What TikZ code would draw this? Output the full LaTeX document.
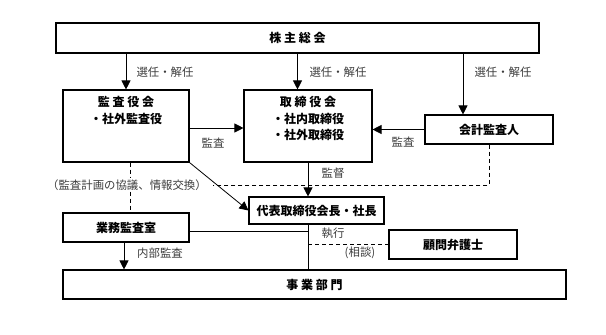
\documentclass[tikz,border=0pt]{standalone}
\usepackage{fontspec}
\setmainfont{Noto Sans CJK JP}
\usepackage{xcolor}
\definecolor{kgText}{RGB}{60,60,60}
\usepackage{tikz}
\usetikzlibrary{positioning,arrows.meta,calc}

\begin{document}
\begin{tikzpicture}[x=1pt,y=-1pt,
  box/.style={draw,line width=1.1pt,fill=white,align=center,inner sep=0pt,font=\fontsize{12}{16.5}\selectfont\bfseries},
  tallbox/.style={box,minimum height=72pt},
  boxtext/.style={align=center,inner sep=0pt,font=\fontsize{12}{16.5}\selectfont\bfseries},
  lbl/.style={font=\fontsize{11.4}{13}\selectfont,text=kgText,inner sep=1pt},
  a/.style={-{Triangle[length=9pt,width=9pt]},line width=0.8pt},
  ln/.style={line width=0.8pt},
  dsh/.style={line width=0.8pt,dash pattern=on 4pt off 3pt}]
  \useasboundingbox (0,0) rectangle (606,335);
  \node[box,minimum width=483pt,minimum height=30pt] (gm) at (297.5,38) {株 主 総 会};
  \node[tallbox,minimum width=126pt] (kansa) at (126,126) {};
  \node[boxtext,below=7pt of kansa.north] (kansaT) {監 査 役 会\\・社外監査役};
  \node[tallbox,minimum width=128pt] (tori) at (308,126) {};
  \node[boxtext,below=7pt of tori.north] (toriT) {取 締 役 会\\・社内取締役\\・社外取締役};
  \node[box,minimum width=128pt,minimum height=29pt] (kaikei) at (489,129.5) {会計監査人};
  \node[box,minimum width=135pt,minimum height=27pt] (ceo) at (316.5,210.5) {代表取締役会長・社長};
  \node[box,minimum width=126pt,minimum height=29pt] (naibu) at (126,227.5) {業務監査室};
  \node[box,minimum width=128pt,minimum height=29pt] (bengo) at (453,244.5) {顧問弁護士};
  \node[box,minimum width=503pt,minimum height=29pt] (jigyo) at (314.5,284.5) {事 業 部 門};

  \draw[a] (gm.south -| kansa.north) -- (kansa.north);
  \draw[a] (gm.south) -- (gm.south |- tori.north);
  \draw[a] ([xshift=-26pt]kaikei.north |- gm.south) -- ([xshift=-26pt]kaikei.north);
  \node[lbl] (sel1) at (165,72) {選任・解任};
  \node[lbl] (sel2) at (338,72) {選任・解任};
  \node[lbl] (sel3) at (503,72) {選任・解任};

  \draw[a] ([yshift=-2pt]kansa.east) -- ([yshift=-2pt]kansa.east -| tori.west);
  \node[lbl] (aud1) at (213,143) {監査};
  \draw[a] (kaikei.west) -- (kaikei.west -| tori.east);
  \node[lbl] (aud2) at (403,142) {監査};
  \draw[a] (tori.south) -- (tori.south |- ceo.north);
  \node[lbl] (sup) at (333,173) {監督};

  \node[lbl,inner xsep=6pt] (plan) at (127,185) {（監査計画の協議、情報交換）};
  \draw[dsh] (kaikei.south) |- (plan.east);
  \draw[dsh] ([xshift=4pt]kansa.south) -- ([xshift=4pt]kansa.south |- plan.north);
  \draw[dsh] ([xshift=4pt]naibu.north |- plan.south) -- ([xshift=4pt]naibu.north);
  \draw[a] (kansa.south east) -- (ceo.west);

  \draw[ln] ([yshift=-4pt]naibu.east) -- ([yshift=-4pt]naibu.east -| tori.south);
  \draw[ln] (ceo.south -| tori.south) -- (jigyo.north -| tori.south);
  \draw[a] ([xshift=-2pt]naibu.south) -- ([xshift=-2pt]naibu.south |- jigyo.north);
  \node[lbl] (int) at (160,253) {内部監査};
  \draw[dsh] (bengo.west -| tori.south) -- (bengo.west);
  \node[lbl] (exec) at (333,233) {執行};
  \node[lbl] (cons) at (360,253) {(相談)};
\end{tikzpicture}
\end{document}
